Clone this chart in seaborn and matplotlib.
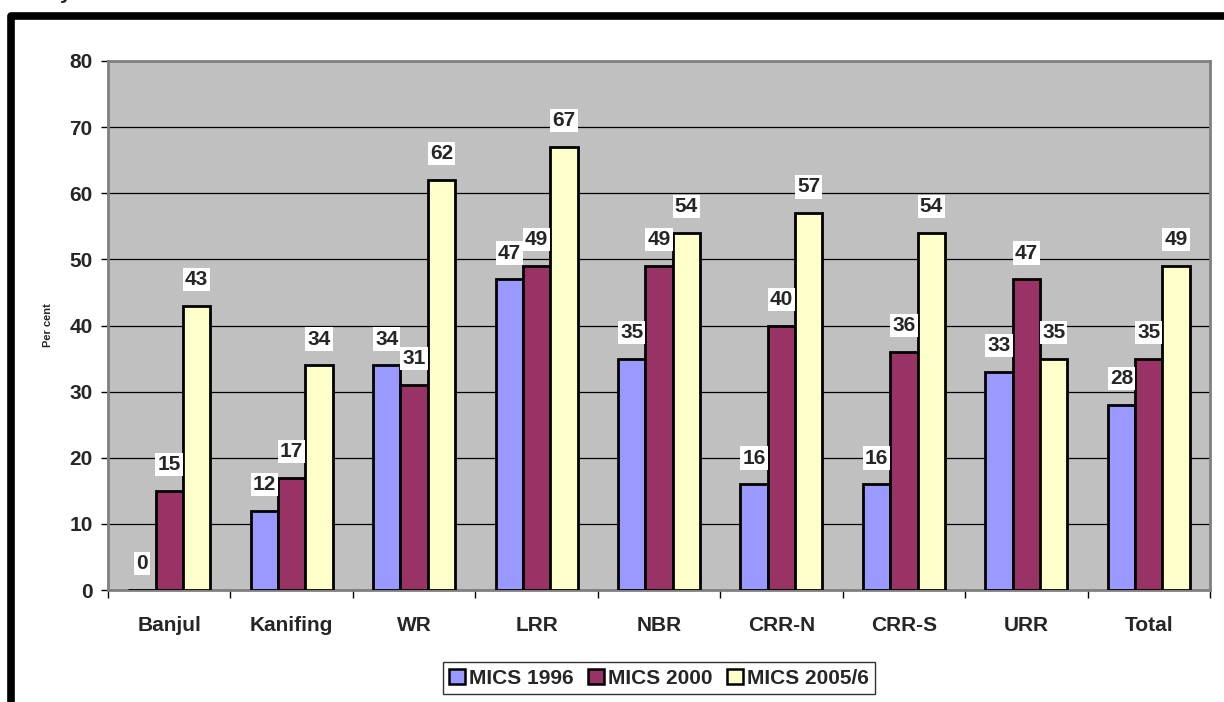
import matplotlib
matplotlib.use("Agg")
import matplotlib.pyplot as plt
import seaborn as sns
import pandas as pd
from matplotlib.patches import Rectangle

regions = ["Banjul", "Kanifing", "WR", "LRR", "NBR", "CRR-N", "CRR-S", "URR", "Total"]
series_names = ["MICS 1996", "MICS 2000", "MICS 2005/6"]
mics_1996 = [0, 12, 34, 47, 35, 16, 16, 33, 28]
mics_2000 = [15, 17, 31, 49, 49, 40, 36, 47, 35]
mics_2005 = [43, 34, 62, 67, 54, 57, 54, 35, 49]
y_ticks = [0, 10, 20, 30, 40, 50, 60, 70, 80]
colors = ["#9999FF", "#993366", "#FFFFCC"]

rows = []
for name, vals in zip(series_names, [mics_1996, mics_2000, mics_2005]):
    for r, v in zip(regions, vals):
        rows.append({"Region": r, "Survey": name, "Value": v})
df = pd.DataFrame(rows)

sns.set_theme(style="white")
plt.rcParams["font.family"] = ["Liberation Sans", "DejaVu Sans"]
plt.rcParams["font.weight"] = "bold"

FS = 15

fig = plt.figure(figsize=(12.24, 7.02), dpi=100)
ax = fig.add_axes([108/1224, 1 - 590/702, (1210-108)/1224, (590-61)/702])
ax.set_facecolor("#C0C0C0")

sns.barplot(data=df, x="Region", y="Value", hue="Survey", order=regions,
            hue_order=series_names, palette=colors, width=0.67,
            edgecolor="black", linewidth=2, saturation=1, ax=ax, zorder=3)

for cont in ax.containers:
    ax.bar_label(cont, fmt="%d", padding=12, fontsize=FS, fontweight="bold",
                 bbox=dict(facecolor="white", edgecolor="none", pad=1.5), zorder=5)

ax.set_ylim(0, 80)
ax.set_xlim(-0.5, len(regions) - 0.5)
ax.set_yticks(y_ticks)
ax.set_yticklabels([str(t) for t in y_ticks], fontsize=FS, fontweight="bold")
ax.yaxis.grid(True, color="black", linewidth=0.9, zorder=0)
ax.set_axisbelow(True)
ax.tick_params(axis="y", which="major", length=5, width=1, color="black",
               direction="out", pad=6, left=True)
ax.set_xticks(range(len(regions)))
ax.set_xticklabels(regions, fontsize=FS, fontweight="bold")
ax.tick_params(axis="x", which="major", length=0, pad=19)
ax.set_xticks([i - 0.5 for i in range(len(regions) + 1)], minor=True)
ax.tick_params(axis="x", which="minor", length=6, width=1, color="black",
               direction="out", bottom=True)

ax.set_xlabel("")
ax.set_ylabel("Per cent", fontsize=8, fontweight="bold", labelpad=12)

for side in ["top", "right", "left", "bottom"]:
    ax.spines[side].set_color("#808080")
    ax.spines[side].set_linewidth(2)

leg = ax.legend(loc="center", bbox_to_anchor=(659/1224, 1 - 678/702),
                bbox_transform=fig.transFigure, ncol=3, frameon=True,
                fancybox=False, edgecolor="black", fontsize=FS,
                handlelength=0.75, handleheight=0.75, handletextpad=0.2,
                columnspacing=0.7, borderpad=0.3, borderaxespad=0)
leg.get_frame().set_linewidth(1)
for t in leg.get_texts():
    t.set_fontweight("bold")
for h in leg.legend_handles:
    h.set_edgecolor("black")
    h.set_linewidth(1.8)

# outer black frame (partially off-canvas)
frame = Rectangle((11/1224, -0.2), 1.5, 1.2 - 16/702, transform=fig.transFigure,
                  fill=False, edgecolor="black", linewidth=5.5,
                  joinstyle="round", clip_on=False)
fig.add_artist(frame)

# cut-off title fragment at top (as in the reference)
fig.text(60/1224, 1 + 1/702, "y", fontsize=15, fontweight="bold",
         va="baseline", ha="left")

fig.savefig("out.png", dpi=100)
